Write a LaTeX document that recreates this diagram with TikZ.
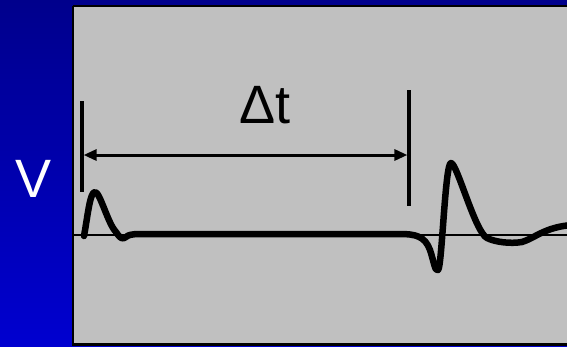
\documentclass[tikz,border=0pt]{standalone}
\usepackage{fontspec}
\setmainfont{Liberation Sans}
\usetikzlibrary{arrows.meta}
\definecolor{bgtop}{RGB}{0,0,140}
\definecolor{bgbot}{RGB}{0,0,208}
\definecolor{panel}{RGB}{192,192,192}
\tikzset{
  marker/.style={line width=3.6pt},
  base/.style={line width=2.6pt},
  wave/.style={line width=6.5pt, line join=round, line cap=round},
  lbl/.style={inner sep=0pt, font=\fontsize{54}{60}\selectfont}
}
\begin{document}
\begin{tikzpicture}[x=1pt,y=-1pt]
\useasboundingbox (0,0) rectangle (567,346);
\shade[top color=bgtop, bottom color=bgbot] (0,0) rectangle (567,346);
\fill[panel] (73,6) rectangle (572,344);
\draw[line width=2.6pt] (73,6) -- (572,6);
\draw[line width=2.6pt] (73,6) -- (73,345);
\draw[line width=2.6pt] (72,344.7) -- (572,344.7);
% baseline
\coordinate (b0) at (74,235);
\coordinate (b1) at (570,235);
\draw[base] (b0) -- (b1);
% markers
\coordinate (m1t) at (82,101);
\coordinate (m1b) at (82,192);
\coordinate (m2t) at (409,90);
\coordinate (m2b) at (409,206);
\draw[marker] (m1t) -- (m1b);
\draw[marker] (m2t) -- (m2b);
\coordinate (a1) at (83.6,155);
\coordinate (a2) at (407.4,155);
\draw[line width=3pt, {Triangle[length=13pt,width=11pt]}-{Triangle[length=13pt,width=11pt]}] (a1) -- (a2);
\node[lbl] (dt) at (265,105) {Δt};
\node[lbl, text=white] (v) at (34,179) {V};
% waveform
\draw[wave] (84,236) .. controls (88,214) and (90,192) .. (95,192)
  .. controls (100,192) and (108,224) .. (116,232)
  .. controls (120,238) and (122,240) .. (126,237)
  .. controls (128,235) and (132,234) .. (140,234)
  -- (400,234)
  .. controls (415,234) and (425,236) .. (430,250)
  .. controls (434,262) and (435,272) .. (438,270)
  .. controls (442,268) and (445,163) .. (451,163)
  .. controls (457,163) and (475,232) .. (487,238)
  .. controls (495,242) and (510,244) .. (522,242)
  .. controls (535,238) and (545,227) .. (572,225);
\end{tikzpicture}
\end{document}
